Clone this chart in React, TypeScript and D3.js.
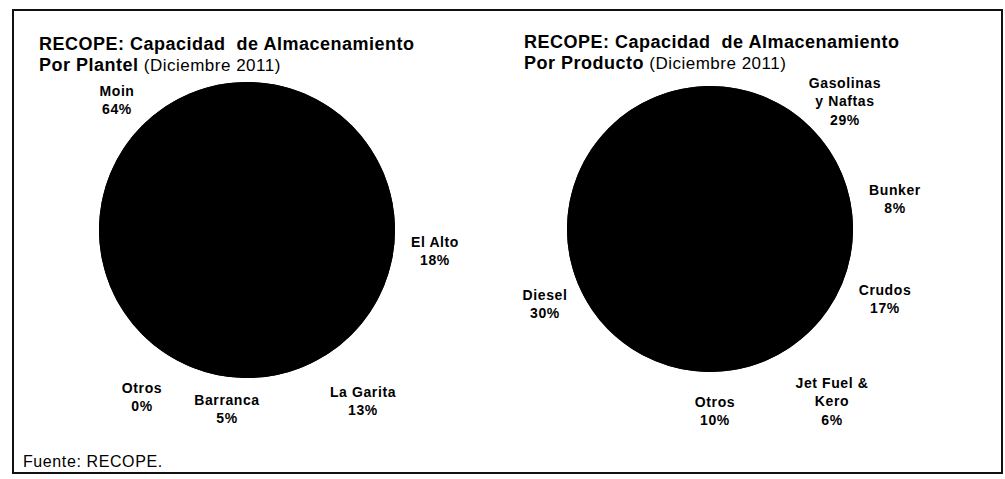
import * as d3 from 'd3';
import React, { useRef, useEffect } from 'react';

// left pie: storage by site
const plantelNames = [['Moin'], ['El Alto'], ['La Garita'], ['Barranca'], ['Otros']];
const plantelValues = [64, 18, 13, 5, 0];

// right pie: storage by product
const productoNames = [['Gasolinas', 'y Naftas'], ['Bunker'], ['Crudos'], ['Jet Fuel &', 'Kero'], ['Otros'], ['Diesel']];
const productoValues = [29, 8, 17, 6, 10, 30];

const W = 1005;
const H = 479;
const FONT = "'Liberation Sans', Arial, sans-serif";

// label block offsets from each pie centre (Excel moved them, so not centroids)
const plantelLabelOffsets = [[-130, -130], [188, 21], [116, 171], [-20, 179], [-105, 167]];
const productoLabelOffsets = [[135, -128], [185, -30], [175, 70], [122, 172], [5, 182], [-165, 75]];

const App = () => {
  const ref = useRef<SVGSVGElement>(null);

  useEffect(() => {
    const svg = d3.select(ref.current);
    svg.selectAll('*').remove();

    // frame
    svg.append('rect')
      .attr('x', 13).attr('y', 10)
      .attr('width', 989).attr('height', 463)
      .attr('fill', 'none')
      .attr('stroke', '#111')
      .attr('stroke-width', 2);

    const drawPie = (
      cx: number, cy: number, r: number, start: number,
      values: number[], names: string[][], offsets: number[][],
      titleX: number, titleY: number, bold2: string
    ) => {
      // title
      svg.append('text')
        .attr('x', titleX).attr('y', titleY)
        .attr('font-family', FONT)
        .attr('font-size', 18)
        .attr('font-weight', 'bold')
        .attr('letter-spacing', 0.5)
        .attr('fill', '#000')
        .style('white-space', 'pre')
        .text('RECOPE: Capacidad  de Almacenamiento');
      const t2 = svg.append('text')
        .attr('x', titleX).attr('y', titleY + 21)
        .attr('font-family', FONT)
        .attr('letter-spacing', 0.5)
        .attr('fill', '#000');
      t2.append('tspan').attr('font-size', 18).attr('font-weight', 'bold').text(bold2);
      t2.append('tspan').attr('font-size', 17).text(' (Diciembre 2011)');

      const pie = d3.pie<number>()
        .sort(null)
        .value(d => d)
        .startAngle(start)
        .endAngle(start + 2 * Math.PI);
      const arc = d3.arc<d3.PieArcDatum<number>>().innerRadius(0).outerRadius(r);

      const g = svg.append('g').attr('transform', `translate(${cx}, ${cy})`);
      // solid disc behind the slices hides anti-aliased seams
      g.append('circle').attr('r', r).attr('fill', '#000');
      g.selectAll('path')
        .data(pie(values))
        .enter().append('path')
        .attr('d', arc)
        .attr('fill', '#000');

      const lh = 18.5;
      const labels = g.selectAll('text.lbl')
        .data(values)
        .enter().append('text')
        .attr('class', 'lbl')
        .attr('text-anchor', 'middle')
        .attr('font-family', FONT)
        .attr('font-size', 14)
        .attr('font-weight', 'bold')
        .attr('letter-spacing', 0.6)
        .attr('fill', '#000');

      labels.each(function (d, i) {
        const lines = [...names[i], `${d}%`];
        const [dx, dy] = offsets[i];
        const y0 = dy - ((lines.length - 1) * lh) / 2 + 5;
        const el = d3.select(this);
        lines.forEach((s, j) => {
          el.append('tspan').attr('x', dx).attr('y', y0 + j * lh).text(s);
        });
      });
    };

    drawPie(247, 230, 148, (201 * Math.PI) / 180, plantelValues, plantelNames, plantelLabelOffsets, 39, 50, 'Por Plantel');
    drawPie(710, 229, 143, (-8 * Math.PI) / 180, productoValues, productoNames, productoLabelOffsets, 524, 48, 'Por Producto');

    svg.append('text')
      .attr('x', 23).attr('y', 467)
      .attr('font-family', FONT)
      .attr('font-size', 16)
      .attr('letter-spacing', 0.6)
      .attr('fill', '#000')
      .text('Fuente: RECOPE.');
  }, []);

  return (
    <svg ref={ref} width={W} height={H}
      style={{ position: 'absolute', left: 0, top: 0, background: '#fff' }} />
  );
};

export default App;
